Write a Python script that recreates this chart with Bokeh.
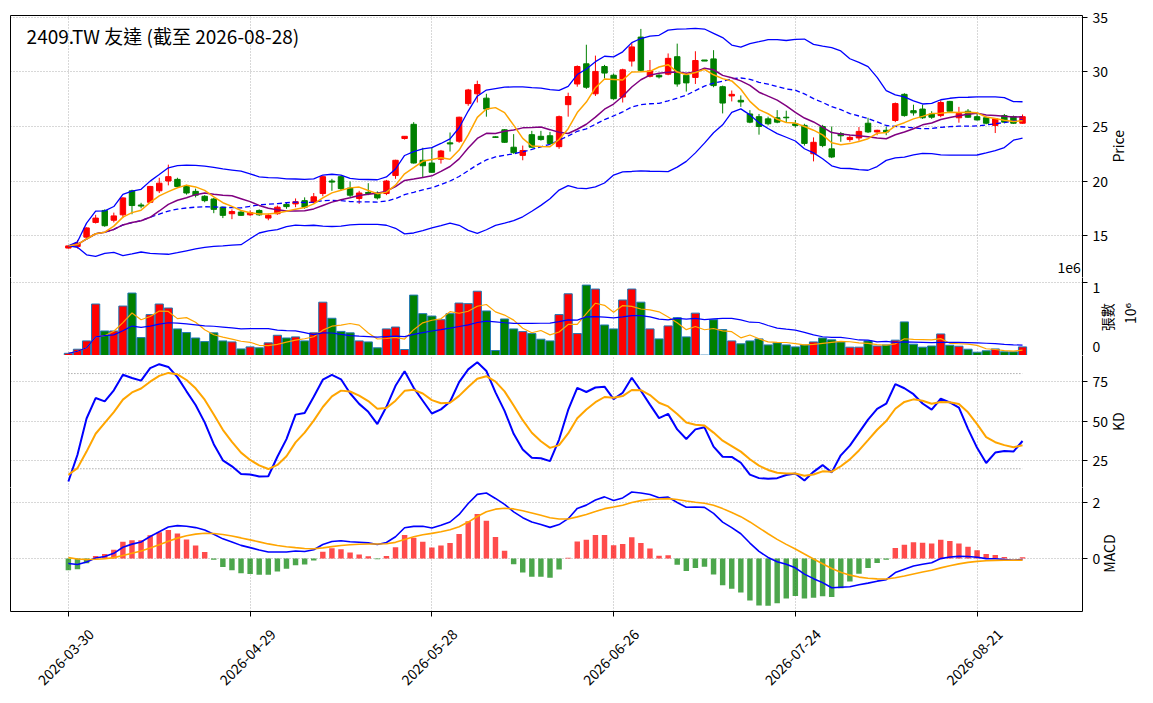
import numpy as np
import pandas as pd
from math import pi
from bokeh.plotting import figure
from bokeh.layouts import column
from bokeh.models import FixedTicker, Label, ColumnDataSource, Range1d, LinearAxis
from bokeh.embed import file_html
from bokeh.resources import INLINE

# ---------------- data ----------------
title_text = "2409.TW 友達 (截至 2026-08-28)"
tick_idx = [0, 20, 40, 60, 80, 100]
tick_labels = ["2026-03-30", "2026-04-29", "2026-05-28", "2026-06-26", "2026-07-24", "2026-08-21"]

opens = [13.85, 14.0, 14.85, 16.2, 17.3, 16.4, 16.9, 19.1, 17.8, 18.05,
         19.1, 20.0, 20.15, 19.5, 19.05, 18.6, 18.35, 17.6, 17.0, 17.15,
         16.9, 17.3, 16.6, 17.0, 17.85, 17.9, 18.2, 18.05, 18.85, 20.0,
         20.4, 19.35, 18.4, 18.95, 18.9, 18.85, 20.5, 23.9, 25.2, 21.9,
         21.65, 22.0, 23.5, 23.65, 27.1, 28.0, 27.6, 24.05, 24.7, 23.1,
         22.35, 24.25, 24.1, 24.15, 23.15, 27.0, 28.9, 30.75, 28.0, 30.5,
         29.7, 27.7, 31.0, 33.2, 29.6, 29.7, 29.8, 31.4, 29.7, 29.5,
         31.1, 31.2, 28.65, 27.8, 27.4, 26.15, 25.9, 25.7, 25.8, 25.85,
         25.25, 25.1, 22.5, 25.0, 22.95, 24.35, 23.8, 23.95, 25.3, 24.5,
         24.65, 25.55, 27.95, 26.45, 26.6, 26.15, 26.0, 27.3, 25.8, 26.4,
         25.9, 25.8, 25.1, 26.0, 25.9, 25.3]
highs = [14.1, 14.6, 15.75, 16.9, 17.4, 17.1, 18.5, 19.2, 18.0, 19.55,
         20.3, 21.5, 20.3, 19.65, 19.3, 18.7, 18.45, 17.65, 17.4, 17.25,
         17.3, 17.4, 17.0, 17.75, 18.0, 18.4, 18.5, 18.9, 20.5, 20.2,
         20.5, 19.95, 19.1, 19.8, 19.05, 20.1, 21.95, 24.1, 25.4, 23.05,
         23.1, 22.85, 24.45, 25.9, 28.45, 29.2, 28.0, 24.1, 24.75, 24.3,
         23.25, 24.6, 24.6, 24.5, 26.0, 28.1, 30.6, 32.5, 31.5, 30.65,
         29.85, 30.3, 32.65, 33.95, 31.1, 29.8, 31.7, 32.6, 29.85, 31.9,
         31.1, 32.0, 28.75, 28.3, 27.85, 26.5, 26.15, 25.9, 26.5, 26.45,
         25.6, 25.25, 24.0, 25.15, 25.0, 24.5, 24.2, 24.95, 25.8, 24.7,
         25.0, 27.2, 28.05, 27.0, 27.0, 26.4, 27.4, 27.35, 26.8, 26.6,
         26.15, 25.9, 25.75, 26.15, 26.0, 26.1]
lows = [13.8, 13.8, 14.8, 16.1, 15.8, 16.2, 16.6, 16.95, 17.5, 18.0,
        18.9, 19.6, 19.4, 18.75, 18.5, 18.05, 17.05, 16.6, 16.5, 16.8,
        16.8, 16.8, 16.4, 16.9, 17.45, 17.6, 17.45, 17.95, 18.6, 19.1,
        19.1, 18.5, 17.9, 18.7, 18.3, 18.7, 20.2, 23.8, 21.6, 20.35,
        20.75, 21.6, 22.7, 23.5, 26.9, 27.2, 25.9, 23.95, 23.5, 22.5,
        21.9, 23.05, 23.7, 23.35, 22.95, 25.9, 28.65, 28.45, 27.8, 29.4,
        27.45, 27.2, 30.5, 30.05, 29.5, 29.4, 29.7, 28.65, 28.2, 28.9,
        31.0, 28.6, 26.2, 27.3, 26.8, 25.3, 24.25, 25.1, 25.3, 25.4,
        24.9, 23.25, 21.8, 23.1, 22.1, 23.6, 23.6, 23.7, 24.4, 24.2,
        24.2, 25.4, 25.9, 26.0, 25.7, 25.7, 25.85, 26.3, 25.35, 25.8,
        25.55, 25.2, 24.4, 25.3, 25.25, 25.25]
closes = [14.05, 14.3, 15.7, 16.6, 15.9, 16.8, 18.45, 17.75, 17.7, 19.5,
          19.8, 20.4, 19.5, 18.9, 18.7, 18.2, 17.4, 16.85, 17.2, 16.85,
          17.1, 16.9, 16.85, 17.6, 17.65, 18.1, 17.6, 18.55, 20.4, 19.9,
          19.3, 18.7, 18.9, 18.85, 18.45, 20.0, 21.9, 24.1, 21.65, 21.4,
          20.8, 22.75, 23.4, 25.85, 28.35, 28.85, 26.6, 24.0, 23.55, 22.6,
          22.8, 23.1, 23.8, 23.45, 25.9, 27.75, 30.5, 28.6, 30.05, 29.9,
          27.55, 30.2, 32.3, 30.15, 30.1, 29.55, 31.25, 28.9, 29.0, 31.05,
          31.0, 28.75, 27.15, 27.95, 27.25, 25.4, 25.0, 25.25, 25.4, 25.8,
          25.1, 23.45, 23.55, 23.25, 22.2, 24.15, 24.0, 24.55, 24.5, 24.65,
          24.5, 27.1, 26.0, 26.25, 25.8, 25.85, 27.2, 26.4, 26.2, 25.85,
          25.6, 25.3, 25.7, 25.4, 25.3, 25.9]
volumes = [30000, 86000, 200000, 705000, 336000, 336000, 677000, 855000, 245000, 560000,
           705000, 650000, 364000, 314000, 240000, 190000, 310000, 200000, 186000, 90000,
           118000, 105000, 173000, 277000, 240000, 255000, 200000, 310000, 730000, 510000,
           330000, 310000, 200000, 186000, 105000, 364000, 390000, 82000, 827000, 573000,
           540000, 490000, 573000, 718000, 710000, 880000, 610000, 68000, 500000, 364000,
           327000, 300000, 223000, 200000, 560000, 845000, 300000, 964000, 910000, 418000,
           364000, 760000, 910000, 730000, 364000, 227000, 405000, 518000, 255000, 580000,
           5000, 490000, 355000, 200000, 160000, 200000, 227000, 145000, 173000, 145000,
           118000, 145000, 186000, 240000, 214000, 186000, 114000, 114000, 200000, 130000,
           145000, 210000, 460000, 155000, 114000, 130000, 295000, 140000, 127000, 86000,
           45000, 64000, 90000, 50000, 50000, 118000]

# indicator states at the first bar
k_start, d_start = 12.0, 16.2
ema12_start, ema26_start, dea_start = 14.9, 15.08, 0.03
kd_levels = [80, 20]

# ---------------- indicators ----------------
n = len(closes)
xs = np.arange(n)
c = pd.Series(closes, dtype=float)
ma5 = c.rolling(5, min_periods=1).mean()
ma10 = c.rolling(10, min_periods=1).mean()
ma20 = c.rolling(20, min_periods=1).mean()
sd20 = c.rolling(20, min_periods=1).std(ddof=0)
bb_up = ma20 + 2 * sd20
bb_dn = ma20 - 2 * sd20

v = pd.Series(volumes, dtype=float)
vma5 = v.rolling(5, min_periods=1).mean()
vma20 = v.rolling(20, min_periods=1).mean()

low9 = pd.Series(lows).rolling(9, min_periods=1).min()
high9 = pd.Series(highs).rolling(9, min_periods=1).max()
rsv = ((c - low9) / (high9 - low9) * 100).fillna(50)
K = [k_start]
D = [d_start]
for i in range(1, n):
    K.append(2 / 3 * K[-1] + 1 / 3 * rsv[i])
    D.append(2 / 3 * D[-1] + 1 / 3 * K[-1])

e12 = [ema12_start]
e26 = [ema26_start]
for i in range(1, n):
    e12.append(e12[-1] + 2 / 13 * (closes[i] - e12[-1]))
    e26.append(e26[-1] + 2 / 27 * (closes[i] - e26[-1]))
dif = np.array(e12) - np.array(e26)
dea = [dea_start]
for i in range(1, n):
    dea.append(dea[-1] + 2 / 10 * (dif[i] - dea[-1]))
dea = np.array(dea)
hist = 2 * (dif - dea)

RED, GREEN = "#ff0000", "#008000"
up = [cl >= op for op, cl in zip(opens, closes)]
cols = [RED if u else GREEN for u in up]
src = ColumnDataSource(dict(
    x=xs, o=opens, h=highs, l=lows, c=closes,
    top=np.maximum(opens, closes), bot=np.minimum(opens, closes),
    col=cols, vol=volumes,
))
hsrc = ColumnDataSource(dict(x=xs, h=hist,
                             col=["#ff0000" if hv >= 0 else "#008000" for hv in hist]))

# ---------------- layout ----------------
FONT = "'Noto Sans CJK TC', 'DejaVu Sans'"
FS = "14px"
LB = 10
FRAME_R = 1085
RB = 68
W = FRAME_R + RB
xr = Range1d(-6.37, 111.6)
LABEL_SHIFT = 2.5   # rotated date labels are centred on their tick


def edge_axis(p, side):
    ax = LinearAxis(ticker=FixedTicker(ticks=[]), major_tick_out=0, major_tick_in=0,
                    minor_tick_out=0, minor_tick_in=0, major_label_standoff=0,
                    axis_line_color="black", axis_line_width=1,
                    major_label_text_font_size="0px")
    p.add_layout(ax, side)
    return ax


def label_axis(p, pos, text, standoff=0):
    # a rotated y-axis title, drawn as the single label of a bare axis
    ax = LinearAxis(ticker=FixedTicker(ticks=[pos]), major_label_overrides={pos: text},
                    major_label_orientation=pi / 2, axis_line_color=None,
                    major_tick_out=0, major_tick_in=0, minor_tick_out=0, minor_tick_in=0,
                    major_label_standoff=standoff, major_label_text_font=FONT,
                    major_label_text_font_size=FS, major_label_text_color="black")
    p.add_layout(ax, "right")
    return ax


def style(p, yticks):
    p.outline_line_color = None
    p.background_fill_color = "white"
    p.border_fill_color = "white"
    p.xgrid.ticker = FixedTicker(ticks=tick_idx)
    for g in (p.xgrid, p.ygrid):
        g.grid_line_color = "#b0b0b0"
        g.grid_line_dash = "1 2"
        g.grid_line_width = 1
    ax = p.yaxis[0]
    ax.ticker = FixedTicker(ticks=yticks)
    ax.axis_line_color = "black"
    ax.major_tick_line_color = "black"
    ax.major_tick_out = 5
    ax.major_tick_in = 0
    ax.minor_tick_line_color = None
    ax.major_label_text_font = FONT
    ax.major_label_text_font_size = FS
    ax.major_label_text_color = "black"
    ax.major_label_standoff = 5
    edge_axis(p, "left")
    return ax


def blank_xaxis(p):
    xa = p.xaxis[0]
    xa.ticker = FixedTicker(ticks=[])
    xa.major_tick_out = 0
    xa.major_tick_in = 0
    xa.minor_tick_out = 0
    xa.minor_tick_in = 0
    xa.major_label_standoff = 0
    xa.major_label_text_font_size = "0px"
    xa.axis_line_color = "black"


def fig(h, yr, top=0, bottom=0):
    return figure(width=W, height=h, x_range=xr, y_range=yr,
                  y_axis_location="right", toolbar_location=None,
                  output_backend="svg", min_border_left=LB, min_border_right=RB,
                  min_border_top=top, min_border_bottom=bottom)


# price panel
p1 = fig(277, Range1d(11.15, 35.18), top=15)
style(p1, [15, 20, 25, 30, 35])
label_axis(p1, 21.69, "Price", standoff=7)
blank_xaxis(p1)
edge_axis(p1, "above")
p1.segment("x", "h", "x", "l", color="col", line_width=1, source=src)
p1.vbar("x", 0.6, "top", "bot", fill_color="col", line_color="col", line_width=1, source=src)
p1.line(xs, bb_up, color="#0000ff", line_width=1.3)
p1.line(xs, bb_dn, color="#0000ff", line_width=1.3)
p1.line(xs, ma20, color="#0000ff", line_width=1.3, line_dash="5 3")
p1.line(xs, ma10, color="#800080", line_width=1.5)
p1.line(xs, ma5, color="#ffa500", line_width=1.5)
p1.add_layout(Label(x=-4.6, y=33.3, text=title_text, text_font="'Noto Sans CJK TC'",
                    text_font_size="19px", text_color="black", text_baseline="middle"))
p1.add_layout(Label(x=111.4, y=11.55, text="1e6", text_font=FONT, text_font_size=FS,
                    text_align="right", text_baseline="bottom", text_color="black"))

# volume panel
p2 = fig(78, Range1d(0, 1.068e6))
vax = style(p2, [])
vol_label_pos = [120000, 935000]          # labels kept inside the panel
vax.ticker = FixedTicker(ticks=vol_label_pos, minor_ticks=[0, 1000000])
vax.major_label_overrides = {120000: "0", 935000: "1"}
vax.major_tick_out = 0
vax.minor_tick_out = 5
vax.minor_tick_in = 0
vax.minor_tick_line_color = "black"
p2.ygrid.ticker = FixedTicker(ticks=[1000000])
label_axis(p2, 333000, "張數", standoff=4)
label_axis(p2, 430000, "10⁶", standoff=0)
blank_xaxis(p2)
p2.vbar("x", 0.9, "vol", 0, fill_color="col", line_color="#1f77b4", line_width=1, source=src)
p2.line(xs, vma5, color="#ffa500", line_width=1.2)
p2.line(xs, vma20, color="#0000ff", line_width=1.2)

# KD panel
p3 = fig(132, Range1d(8.2, 91.4))
style(p3, [25, 50, 75])
label_axis(p3, 43.8, "KD", standoff=7)
blank_xaxis(p3)
for lv in kd_levels:
    p3.line(xs, [lv] * n, color="#808080", line_width=1, line_dash="1 2")
p3.line(xs, K, color="#0000ff", line_width=2)
p3.line(xs, D, color="#ffa500", line_width=2)

# MACD panel
p4 = fig(206, Range1d(-1.9, 2.54), bottom=75)
style(p4, [0, 2])
label_axis(p4, -0.51, "MACD", standoff=6)
p4.vbar("x", 0.6, "h", 0, fill_color="col", line_color=None, fill_alpha=0.7, source=hsrc)
p4.line(xs, dif, color="#0000ff", line_width=1.6)
p4.line(xs, dea, color="#ffa500", line_width=1.6)
xa = p4.xaxis[0]
label_pos = [t + LABEL_SHIFT for t in tick_idx]
xa.ticker = FixedTicker(ticks=label_pos, minor_ticks=tick_idx)
xa.major_label_overrides = {lp: lab for lp, lab in zip(label_pos, tick_labels)}
xa.major_label_orientation = pi / 4
xa.major_label_text_font = FONT
xa.major_label_text_font_size = FS
xa.major_label_text_color = "black"
xa.major_label_standoff = 15
xa.axis_line_color = "black"
xa.major_tick_out = 0
xa.major_tick_in = 0
xa.minor_tick_out = 5
xa.minor_tick_in = 0
xa.minor_tick_line_color = "black"

layout = column(p1, p2, p3, p4, spacing=0)
open("out.html", "w").write(file_html(layout, INLINE))
